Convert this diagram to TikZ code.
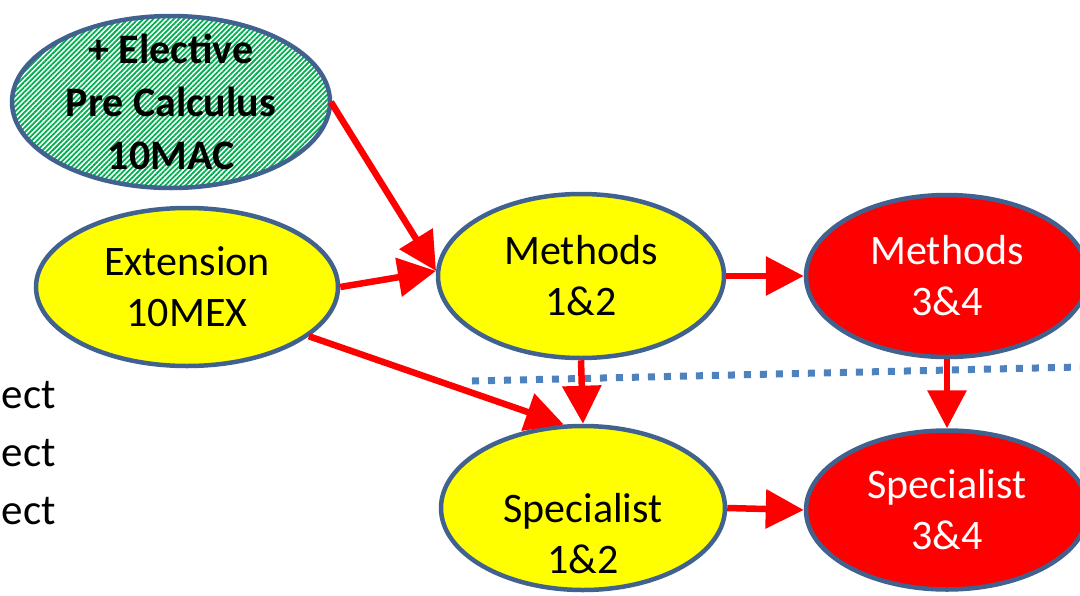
\documentclass[tikz,border=0pt]{standalone}
\usepackage{fontspec}
\setmainfont{Carlito}
\usetikzlibrary{shapes.geometric,arrows.meta,patterns.meta}
\definecolor{rim}{HTML}{41628F}
\definecolor{hat}{HTML}{00B050}
\definecolor{sep}{HTML}{4F81BD}
\definecolor{yel}{HTML}{FFFF00}
\definecolor{hot}{HTML}{FF0000}
\tikzset{
  crs/.style={ellipse, draw=rim, line width=4.5pt, inner sep=0pt, align=center},
  lnk/.style={draw=hot, line width=6.5pt, -{Triangle[length=38pt, width=38pt]}},
  brk/.style={draw=sep, line width=7pt, dash pattern=on 7pt off 9pt}}
\begin{document}
\begin{tikzpicture}[x=1pt, y=-1pt, font=\fontsize{42}{51}\selectfont,
  txt/.style={align=center, inner sep=0pt},
  hatch/.style={preaction={fill=white}, pattern={Lines[angle=45, distance=3.6pt, line width=1.8pt]}, pattern color=hat}]
\useasboundingbox (0,0) rectangle (1080,595);
% cut-off text at the left edge
\foreach \yb [count=\i] in {408,466,524}
  \node[anchor=base east, inner sep=0pt, font=\fontsize{43}{51}\selectfont] (ect\i) at (56,\yb) {ect};
% dotted separator
\coordinate (cutL) at (472,381);
\coordinate (cutR) at (1080,367);
\draw[brk] (cutL) -- (cutR);
% courses
\node[crs, hatch, minimum width=318pt, minimum height=172pt] (pre) at (171,102) {};
\node[txt, font=\fontsize{42}{53}\selectfont\bfseries] (pretxt) at (171,102) {+ Elective\\Pre Calculus\\10MAC};
\node[crs, fill=yel, minimum width=302pt, minimum height=158pt] (ext) at (187,287) {Extension\\10MEX};
\node[crs, fill=yel, minimum width=286pt, minimum height=164pt] (m12) at (581,276) {Methods\\1\&2};
\node[crs, fill=hot, text=white, minimum width=282pt, minimum height=162pt] (m34) at (947,276) {Methods\\3\&4};
\node[crs, fill=yel, minimum width=284pt, minimum height=164pt] (s12) at (583,508) {};
\node[txt] (s12txt) at (583,534) {Specialist\\1\&2};
\node[crs, fill=hot, text=white, minimum width=282pt, minimum height=159pt] (s34) at (947,510) {Specialist\\3\&4};
% pathways
\draw[lnk] (pre.east) -- (m12.178);
\draw[lnk] (ext.east) -- (m12.178);
\draw[lnk] (ext.-22) -- (s12.103);
\draw[lnk] (m12.south) -- (s12.north);
\draw[lnk] (m12.east) -- (m34.west);
\draw[lnk] (m34.south) -- (s34.north);
\draw[lnk] (s12.east) -- (s34.west);
\end{tikzpicture}
\end{document}
